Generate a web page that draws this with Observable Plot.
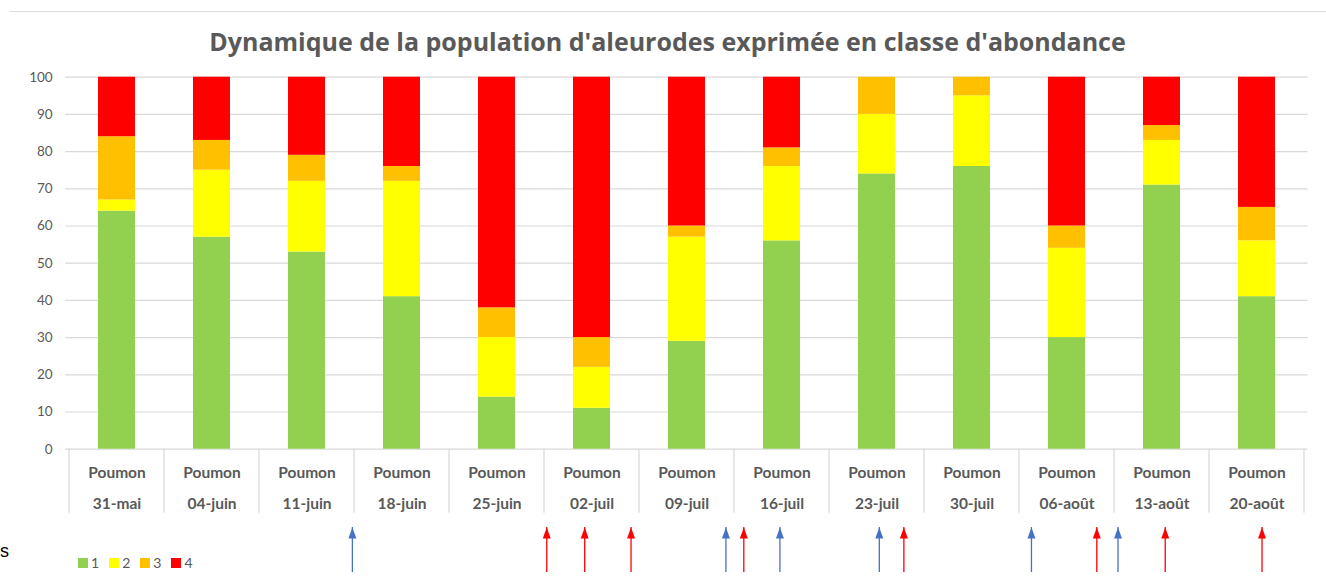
<!DOCTYPE html>
<html>
<head>
<meta charset="utf-8">
<script src="https://cdn.jsdelivr.net/npm/d3@7"></script>
<script src="https://cdn.jsdelivr.net/npm/@observablehq/plot@0.6"></script>
<style>
  body { margin: 0; background: #fff; }
  #root { position: relative; width: 1326px; height: 582px; overflow: hidden; background: #fff; font-family: Lato, sans-serif; }
  #sheetline { position: absolute; left: 10px; top: 11px; width: 1316px; height: 0; border-top: 1px solid #dcdcdc; }
  #title { position: absolute; left: 0; top: 29px; width: 1335px; text-align: center; font: bold 25px/25px "Open Sans", sans-serif; color: #595959; white-space: nowrap; }
  #main { position: absolute; left: 0; top: 62px; }
  #arrows { position: absolute; left: 0; top: 520px; }
  #legend { position: absolute; left: 78px; top: 546px; font: 14px Lato, sans-serif; color: #595959; }
  #s { position: absolute; left: 0; top: 542px; font: 18px/18px "Liberation Sans", Arial, sans-serif; color: #000; }
  .lg-swatch { margin-right: 10px !important; }
  .lg-swatch > svg { margin-right: 3px !important; }
</style>
</head>
<body>
<div id="root">
  <div id="sheetline"></div>
  <div id="title">Dynamique de la population d'aleurodes exprimée en classe d'abondance</div>
  <div id="main"></div>
  <div id="arrows"></div>
  <div id="legend"></div>
  <div id="s">s</div>
</div>
<script>
// ---- Data ----
const organe = "Poumon";
const dates = ["31-mai", "04-juin", "11-juin", "18-juin", "25-juin", "02-juil", "09-juil", "16-juil", "23-juil", "30-juil", "06-août", "13-août", "20-août"];
const classes = ["1", "2", "3", "4"];
const classe1 = [64, 57, 53, 41, 14, 11, 29, 56, 74, 76, 30, 71, 41];
const classe2 = [3, 18, 19, 31, 16, 11, 28, 20, 16, 19, 24, 12, 15];
const classe3 = [17, 8, 7, 4, 8, 8, 3, 5, 10, 5, 6, 4, 9];
const classe4 = [16, 17, 21, 24, 62, 70, 40, 19, 0, 0, 40, 13, 35];
const classColors = ["#92D050", "#FFFF00", "#FFC000", "#FF0000"];
const yTicks = [0, 10, 20, 30, 40, 50, 60, 70, 80, 90, 100];
// Arrow positions (in category units along the axis) and their kind
const arrowPos = [3.00, 5.034, 5.431, 5.916, 6.909, 7.096, 7.474, 8.514, 8.771, 10.106, 10.790, 11.012, 11.506, 12.519];
const arrowType = ["bleu", "rouge", "rouge", "rouge", "bleu", "rouge", "bleu", "bleu", "rouge", "bleu", "rouge", "bleu", "rouge", "rouge"];
const arrowTypes = ["bleu", "rouge"];
const arrowColors = ["#4472C4", "#FF0000"];

// ---- Build tables ----
const series = [classe1, classe2, classe3, classe4];
const rows = dates.flatMap((d, i) => series.map((s, k) => ({date: d, classe: classes[k], value: s[i]})));
const arrows = arrowPos.map((p, i) => ({pos: p, type: arrowType[i]}));

const W = 1326;
const mL = 65.2, mR = 18.5;
const textColor = "#595959";

const main = Plot.plot({
  width: W, height: 458,
  marginTop: 14.7, marginBottom: 71.3, marginLeft: mL, marginRight: mR,
  style: {fontFamily: "Lato, sans-serif", color: textColor, background: "transparent", overflow: "visible"},
  x: {domain: dates, paddingInner: 0.613, paddingOuter: 0.3065, axis: null},
  y: {domain: [0, 100], label: null},
  color: {domain: classes, range: classColors},
  marks: [
    Plot.gridY(yTicks, {stroke: "#d9d9d9", strokeOpacity: 1, strokeWidth: 1.2}),
    Plot.axisY(yTicks, {tickSize: 0, tickPadding: 13, fontSize: 13.5, label: null, fill: textColor}),
    Plot.barY(rows, {x: "date", y: "value", fill: "classe"}),
    Plot.text(dates, {x: d => d, text: () => organe, frameAnchor: "bottom", lineAnchor: "bottom", dy: 28.3, fontSize: 15.5, fontWeight: "bold", fill: textColor}),
    Plot.text(dates, {x: d => d, text: d => d, frameAnchor: "bottom", lineAnchor: "bottom", dy: 59.3, fontSize: 15.5, fontWeight: "bold", fill: textColor})
  ]
});

// category separators at the band edges, using the plot's own scales
const xs = main.scale("x");
const ys = main.scale("y");
const gap = (xs.step - xs.bandwidth) / 2;
const edges = dates.map(d => xs.apply(d) - gap).concat([xs.apply(dates[dates.length - 1]) + xs.bandwidth + gap]);
const y0 = ys.apply(0);
d3.select(main).append("g")
  .attr("stroke", "#d9d9d9").attr("stroke-width", 1.2)
  .selectAll("line").data(edges).join("line")
  .attr("x1", d => d).attr("x2", d => d)
  .attr("y1", y0).attr("y2", y0 + 64);

document.getElementById("main").appendChild(main);

// arrows (treatments) below the axis
const tipSymbol = {
  draw(ctx) {
    ctx.moveTo(0, 0);
    ctx.lineTo(4, 11);
    ctx.lineTo(-4, 11);
    ctx.closePath();
  }
};
const arrowPlot = Plot.plot({
  width: W, height: 62,
  marginTop: 7, marginBottom: 10, marginLeft: mL, marginRight: mR,
  style: {background: "transparent", overflow: "visible"},
  x: {domain: [0, dates.length], axis: null},
  y: {domain: [0, 1], axis: null},
  color: {domain: arrowTypes, range: arrowColors},
  marks: [
    Plot.ruleX(arrows, {x: "pos", y1: 0, y2: 1, stroke: "type", strokeWidth: 1.3}),
    Plot.dot(arrows, {x: "pos", y: 1, symbol: tipSymbol, fill: "type", r: 4})
  ]
});
document.getElementById("arrows").appendChild(arrowPlot);

// legend
const legend = Plot.legend({
  color: {domain: classes, range: classColors},
  legend: "swatches",
  swatchSize: 10,
  className: "lg",
  style: {fontFamily: "Lato, sans-serif", fontSize: "14px", color: textColor}
});
document.getElementById("legend").appendChild(legend);
</script>
</body>
</html>
